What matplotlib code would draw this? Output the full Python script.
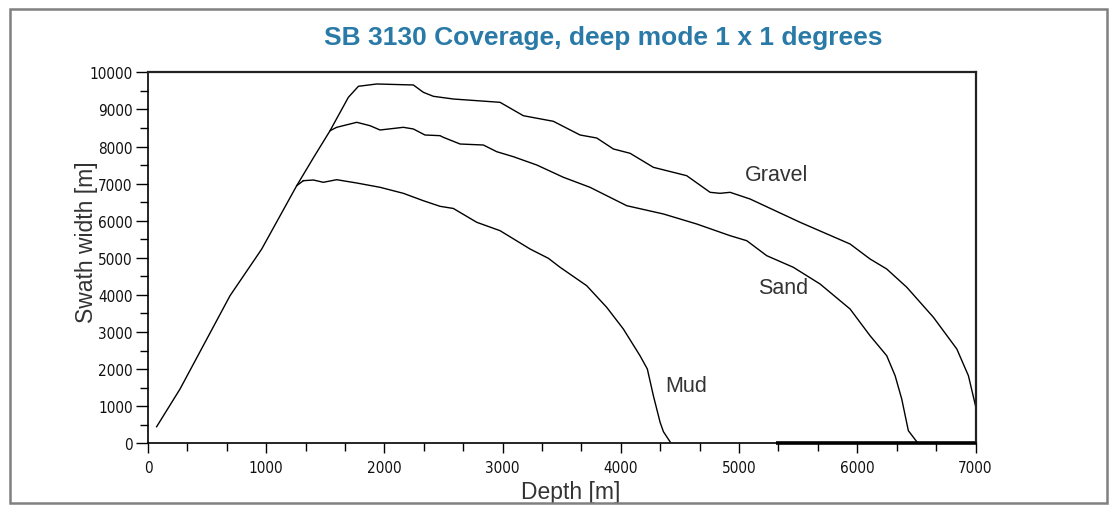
import matplotlib
matplotlib.use("Agg")
import matplotlib.pyplot as plt
from matplotlib import font_manager
from matplotlib.font_manager import FontProperties
from matplotlib.patches import Rectangle
from matplotlib.ticker import MultipleLocator, FixedLocator

# ---- data ----
rise_x = [73, 271, 694, 905, 962, 1258]
rise_y = [447, 1464, 3979, 4968, 5237, 6944]

mud_x = [1314, 1399, 1483, 1596, 1766, 1963, 2160, 2329, 2470, 2583, 2781, 2978,
         3232, 3387, 3486, 3711, 3880, 4021, 4162, 4224, 4275, 4332, 4360, 4416]
mud_y = [7078, 7097, 7035, 7105, 7016, 6900, 6738, 6539, 6388, 6330, 5957, 5731,
         5237, 4986, 4744, 4248, 3666, 3081, 2361, 2003, 1283, 566, 313, 43]

sand_x = [1258, 1400, 1540, 1596, 1766, 1878, 1963, 2160, 2245, 2343, 2470, 2498,
          2640, 2837, 2950, 3091, 3289, 3514, 3739, 4050, 4360, 4642, 4924, 5065,
          5234, 5459, 5685, 5939, 6108, 6249, 6320, 6376, 6432, 6503]
sand_y = [6944, 7700, 8426, 8517, 8652, 8561, 8445, 8517, 8472, 8310, 8292, 8248,
          8067, 8040, 7860, 7725, 7501, 7170, 6900, 6404, 6181, 5911, 5596, 5461,
          5057, 4744, 4294, 3620, 2900, 2361, 1822, 1194, 340, 43]

gravel_x = [1540, 1695, 1780, 1935, 2245, 2329, 2414, 2583, 2978, 3175, 3429, 3655,
            3796, 3937, 4078, 4275, 4557, 4755, 4839, 4924, 5093, 5516, 5939, 6108,
            6249, 6419, 6644, 6842, 6940, 7000]
gravel_y = [8426, 9326, 9623, 9685, 9658, 9461, 9353, 9280, 9191, 8830, 8679, 8310,
            8229, 7933, 7817, 7439, 7213, 6765, 6738, 6765, 6585, 5957, 5372, 4968,
            4698, 4205, 3396, 2542, 1822, 1013]

floor_x = [5313, 7000]
floor_y = [0, 0]

labels = ["Gravel", "Sand", "Mud"]
label_x = [5321, 5372, 4552]
label_y = [7235, 4200, 1571]

title = "SB 3130 Coverage, deep mode 1 x 1 degrees"
xlabel = "Depth [m]"
ylabel = "Swath width [m]"

# ---- fonts ----
names = {f.name for f in font_manager.fontManager.ttflist}
main_font = "Liberation Sans" if "Liberation Sans" in names else "DejaVu Sans"

tick_fp = None
cands = []
for f in font_manager.fontManager.ttflist:
    low = (f.name + " " + f.fname).lower()
    if ("narrow" in low or "condensed" in low) and "bold" not in low \
            and "italic" not in low and "oblique" not in low and "serif" not in f.name.lower().replace("sans", ""):
        cands.append(f)
pref = ["liberation", "dejavu", "roboto", "noto", "open", ""]
for p in pref:
    for f in cands:
        if p in (f.name + f.fname).lower():
            tick_fp = FontProperties(fname=f.fname)
            break
    if tick_fp is not None:
        break
if tick_fp is None:
    tick_fp = FontProperties(family=main_font)
tick_fp.set_size(11)

plt.rcParams["font.family"] = [main_font, "DejaVu Sans"]

W, H = 1111, 506
fig = plt.figure(figsize=(W / 100, H / 100), dpi=100)
fig.patch.set_facecolor("white")

# outer frame
fig.patches.append(Rectangle((10 / W, 1 - 504 / H), 1097 / W, 494 / H,
                             transform=fig.transFigure, fill=False,
                             edgecolor="#808080", linewidth=1.8))

ax = fig.add_axes([148 / W, 1 - 444.3 / H, (975.5 - 148) / W, (444.3 - 73.3) / H])

lc = "black"
lw = 1.0
ax.plot(rise_x + [mud_x[0]], rise_y + [mud_y[0]], color=lc, lw=lw)
ax.plot(mud_x, mud_y, color=lc, lw=lw)
ax.plot(sand_x, sand_y, color=lc, lw=lw)
ax.plot(gravel_x, gravel_y, color=lc, lw=lw)
ax.plot(floor_x, floor_y, color=lc, lw=2.6, solid_capstyle="butt", clip_on=False)

for t, x, y in zip(labels, label_x, label_y):
    ax.text(x, y, t, fontsize=15.5, color="#333333", ha="center", va="center")

ax.set_xlim(0, 7000)
ax.set_ylim(0, 10000)
ax.xaxis.set_major_locator(MultipleLocator(1000))
ax.xaxis.set_minor_locator(FixedLocator([i * 1000 / 3 for i in range(22)]))
ax.yaxis.set_major_locator(MultipleLocator(1000))
ax.yaxis.set_minor_locator(MultipleLocator(500))

ax.tick_params(axis="both", which="major", direction="out", color="black", width=1.0)
ax.tick_params(axis="y", which="major", length=9, pad=2)
ax.tick_params(axis="y", which="minor", length=6, width=1.0)
ax.tick_params(axis="x", which="major", length=7, pad=5)
ax.tick_params(axis="x", which="minor", length=6, width=1.0)
for lab in ax.get_xticklabels() + ax.get_yticklabels():
    lab.set_fontproperties(tick_fp)
    lab.set_color("#111111")

for side in ["left", "bottom"]:
    ax.spines[side].set_color("black")
    ax.spines[side].set_linewidth(1.2)
for side in ["top", "right"]:
    ax.spines[side].set_color("#222222")
    ax.spines[side].set_linewidth(1.6)

ax.set_xlabel(xlabel, fontsize=16.5, color="#333333")
ax.set_ylabel(ylabel, fontsize=16.5, color="#333333")
ax.xaxis.set_label_coords((571 - 148) / 827.5, -(493 - 444.3) / 371)
ax.xaxis.label.set_va("center")
ax.yaxis.set_label_coords((86 - 148) / 827.5, (444.3 - 242.5) / 371)
ax.yaxis.label.set_va("center")

fig.text(603.5 / W, 1 - 38 / H, title, fontsize=19, fontweight="bold",
         color="#2a7aa8", ha="center", va="center")

fig.savefig("out.png", dpi=100, facecolor="white")
